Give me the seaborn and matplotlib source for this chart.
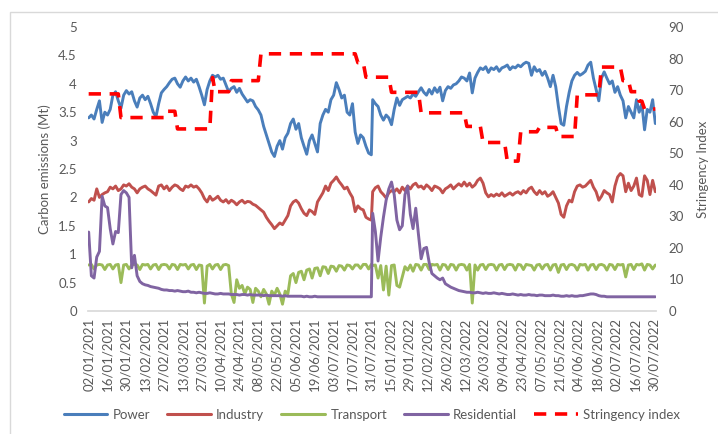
import numpy as np
import pandas as pd
import matplotlib
matplotlib.use("Agg")
import matplotlib.pyplot as plt
from matplotlib.lines import Line2D
from matplotlib.patches import Rectangle
from matplotlib.ticker import FuncFormatter
import seaborn as sns

# ---------------- data ----------------
PERIODS = [("2021-01-02", "2021-07-31"), ("2022-01-02", "2022-07-31")]
SAMPLE_EVERY_DAYS = 2
TICK_EVERY_DAYS = 14

SECTORS = ["Power", "Industry", "Transport", "Residential"]
STRINGENCY_NAME = "Stringency index"

power = [
    3.40, 3.45, 3.38, 3.55, 3.70, 3.32, 3.50,
    3.45, 3.55, 3.80, 3.86, 3.70, 3.57, 3.80,
    3.88, 3.82, 3.86, 3.70, 3.59, 3.75, 3.80,
    3.72, 3.78, 3.65, 3.50, 3.42, 3.65, 3.84,
    3.90, 3.95, 4.02, 4.08, 4.10, 4.00, 3.94,
    4.05, 4.12, 4.05, 4.10, 4.03, 4.08, 3.95,
    3.80, 3.63, 3.90, 4.05, 4.15, 4.12, 4.15,
    4.08, 4.10, 3.98, 3.86, 3.92, 3.95, 3.85,
    3.92, 3.82, 3.75, 3.68, 3.72, 3.70, 3.60,
    3.54, 3.45, 3.25, 3.10, 2.95, 2.80, 2.72,
    2.90, 3.00, 2.85, 3.05, 3.13, 3.30, 3.38,
    3.20, 3.30, 3.05, 2.90, 2.76, 3.00, 3.10,
    2.95, 2.80, 3.30, 3.45, 3.55, 3.50, 3.72,
    3.80, 4.02, 3.90, 3.75, 3.80, 3.50, 3.45,
    3.65, 3.15, 2.95, 3.10, 3.05, 2.90, 2.78,
    2.75,
    3.72, 3.65, 3.60, 3.45, 3.36, 3.45, 3.40,
    3.28, 3.55, 3.75, 3.62, 3.72, 3.75, 3.78,
    3.75, 3.82, 3.78, 3.86, 3.93, 3.85, 3.80,
    3.90, 3.82, 3.93, 3.85, 3.94, 3.70, 3.88,
    3.95, 3.92, 3.98, 4.00, 4.05, 4.12, 4.10,
    4.05, 4.19, 3.84, 4.10, 4.20, 4.28, 4.25,
    4.30, 4.20, 4.28, 4.25, 4.30, 4.22, 4.28,
    4.30, 4.33, 4.25, 4.30, 4.28, 4.33, 4.30,
    4.35, 4.38, 4.36, 4.15, 4.30, 4.22, 4.25,
    4.15, 4.22, 4.10, 3.95, 4.15, 3.95, 3.60,
    3.30, 3.27, 3.60, 3.85, 4.05, 4.15, 4.20,
    4.15, 4.18, 4.22, 4.33, 4.38, 4.10, 3.90,
    3.70, 4.10, 4.21, 4.10, 4.00, 4.05, 3.85,
    3.95, 3.80, 3.70, 3.40, 3.60, 3.50, 3.40,
    3.72, 3.50, 3.65, 3.19, 3.55, 3.50, 3.72,
    3.30,
]

industry = [
    1.92, 1.98, 1.95, 2.15, 2.00, 2.05, 2.08,
    2.10, 2.18, 2.15, 2.20, 2.12, 2.15, 2.22,
    2.20, 2.24, 2.18, 2.15, 2.08, 2.15, 2.18,
    2.20, 2.15, 2.12, 2.08, 2.04, 2.20, 2.22,
    2.15, 2.20, 2.12, 2.18, 2.22, 2.20, 2.15,
    2.12, 2.20, 2.18, 2.22, 2.18, 2.20, 2.15,
    2.08, 1.98, 1.92, 2.02, 1.95, 1.98, 2.02,
    1.95, 1.92, 1.96, 1.90, 1.95, 1.92, 1.87,
    1.92, 1.95, 1.90, 1.93, 1.92, 1.88, 1.86,
    1.82, 1.78, 1.74, 1.65, 1.58, 1.52, 1.45,
    1.50, 1.55, 1.52, 1.60, 1.68, 1.85, 1.92,
    1.95, 1.90, 1.80, 1.72, 1.68, 1.78, 1.75,
    1.70, 1.92, 2.00, 2.08, 2.20, 2.12, 2.25,
    2.30, 2.36, 2.28, 2.22, 2.15, 2.18, 2.08,
    2.00, 1.75, 1.85, 1.80, 1.78, 1.65, 1.62,
    1.60,
    2.10, 2.17, 2.20, 2.10, 2.05, 1.99, 2.08,
    2.12, 2.10, 2.15, 2.08, 2.18, 2.12, 2.20,
    2.15, 2.22, 2.25, 2.18, 2.20, 2.15, 2.22,
    2.18, 2.12, 2.20, 2.18, 2.15, 2.08, 2.15,
    2.18, 2.22, 2.15, 2.20, 2.24, 2.20, 2.27,
    2.20, 2.25, 2.18, 2.22, 2.30, 2.34, 2.25,
    2.08, 2.01, 2.05, 2.02, 2.06, 2.03, 2.08,
    2.02, 2.05, 2.08, 2.04, 2.08, 2.10, 2.06,
    2.12, 2.08, 2.15, 2.18, 2.10, 2.05, 2.12,
    2.06, 2.10, 2.02, 2.05, 2.10, 2.00, 1.90,
    1.70, 1.65, 1.85, 1.95, 1.92, 2.10, 2.20,
    2.22, 2.18, 2.20, 2.25, 2.30, 2.18, 2.10,
    1.95, 2.02, 2.12, 2.08, 2.05, 1.92, 2.20,
    2.36, 2.42, 2.38, 2.10, 2.25, 2.12, 2.20,
    2.34, 2.05, 2.02, 2.38, 2.30, 2.05, 2.30,
    2.10,
]

transport = [
    0.81, 0.82, 0.74, 0.81, 0.82, 0.81, 0.73,
    0.81, 0.82, 0.74, 0.81, 0.82, 0.50, 0.81,
    0.82, 0.74, 0.81, 0.82, 0.81, 0.73, 0.82,
    0.81, 0.82, 0.74, 0.81, 0.82, 0.73, 0.81,
    0.82, 0.81, 0.74, 0.82, 0.81, 0.73, 0.82,
    0.81, 0.82, 0.74, 0.81, 0.82, 0.73, 0.81,
    0.80, 0.14, 0.79, 0.82, 0.74, 0.81, 0.82,
    0.73, 0.81, 0.82, 0.80, 0.30, 0.15, 0.55,
    0.40, 0.45, 0.30, 0.42, 0.38, 0.15, 0.40,
    0.35, 0.25, 0.38, 0.30, 0.12, 0.35, 0.28,
    0.40, 0.30, 0.12, 0.35, 0.30, 0.62, 0.66,
    0.50, 0.68, 0.70, 0.55, 0.72, 0.74, 0.58,
    0.75, 0.76, 0.62, 0.78, 0.77, 0.66, 0.79,
    0.78, 0.70, 0.80, 0.79, 0.72, 0.81, 0.80,
    0.74, 0.81, 0.81, 0.75, 0.82, 0.82, 0.74,
    0.82,
    0.80, 0.81, 0.58, 0.80, 0.37, 0.79, 0.28,
    0.80, 0.81, 0.45, 0.42, 0.60, 0.78, 0.72,
    0.81, 0.70, 0.82, 0.81, 0.72, 0.82, 0.82,
    0.73, 0.82, 0.81, 0.82, 0.72, 0.82, 0.81,
    0.73, 0.82, 0.81, 0.72, 0.81, 0.82, 0.81,
    0.72, 0.82, 0.14, 0.81, 0.72, 0.81, 0.82,
    0.73, 0.81, 0.82, 0.81, 0.72, 0.81, 0.82,
    0.73, 0.81, 0.82, 0.81, 0.72, 0.82, 0.81,
    0.73, 0.82, 0.81, 0.80, 0.72, 0.81, 0.82,
    0.74, 0.81, 0.82, 0.72, 0.81, 0.82, 0.68,
    0.81, 0.82, 0.73, 0.81, 0.82, 0.80, 0.72,
    0.82, 0.81, 0.82, 0.72, 0.81, 0.82, 0.73,
    0.81, 0.82, 0.80, 0.72, 0.82, 0.81, 0.73,
    0.82, 0.81, 0.82, 0.60, 0.81, 0.82, 0.73,
    0.82, 0.81, 0.83, 0.72, 0.82, 0.81, 0.74,
    0.81,
]

residential = [
    1.39, 0.62, 0.58, 0.95, 1.05, 2.02, 1.85,
    1.82, 1.45, 1.18, 1.40, 1.38, 2.05, 2.12,
    2.08, 2.00, 0.76, 0.98, 0.62, 0.52, 0.48,
    0.46, 0.45, 0.43, 0.42, 0.41, 0.40, 0.38,
    0.37, 0.37, 0.36, 0.36, 0.35, 0.36, 0.35,
    0.34, 0.34, 0.35, 0.33, 0.33, 0.32, 0.33,
    0.32, 0.31, 0.31, 0.32, 0.31, 0.30, 0.30,
    0.31, 0.30, 0.30, 0.30, 0.29, 0.29, 0.29,
    0.28, 0.29, 0.29, 0.28, 0.29, 0.28, 0.28,
    0.28, 0.28, 0.27, 0.28, 0.27, 0.27, 0.27,
    0.27, 0.27, 0.26, 0.27, 0.26, 0.26, 0.26,
    0.26, 0.26, 0.26, 0.25, 0.26, 0.25, 0.25,
    0.26, 0.25, 0.25, 0.25, 0.25, 0.25, 0.25,
    0.25, 0.25, 0.25, 0.25, 0.25, 0.25, 0.25,
    0.25, 0.25, 0.25, 0.25, 0.25, 0.25, 0.25,
    0.25,
    1.72, 1.40, 0.88, 1.30, 1.65, 1.95, 2.15,
    2.27, 2.05, 1.60, 1.43, 1.50, 2.05, 2.20,
    1.70, 1.45, 1.81, 1.35, 0.92, 1.10, 1.12,
    0.85, 0.66, 0.62, 0.58, 0.55, 0.58, 0.48,
    0.45, 0.42, 0.40, 0.38, 0.36, 0.35, 0.34,
    0.33, 0.33, 0.32, 0.32, 0.33, 0.32, 0.31,
    0.32, 0.31, 0.31, 0.32, 0.31, 0.30, 0.31,
    0.30, 0.29, 0.29, 0.30, 0.29, 0.28, 0.29,
    0.28, 0.28, 0.29, 0.28, 0.28, 0.27, 0.28,
    0.28, 0.27, 0.27, 0.27, 0.28, 0.27, 0.27,
    0.26, 0.26, 0.27, 0.26, 0.27, 0.26, 0.26,
    0.27, 0.27, 0.28, 0.29, 0.30, 0.30, 0.29,
    0.27, 0.26, 0.26, 0.25, 0.25, 0.25, 0.25,
    0.25, 0.25, 0.25, 0.25, 0.25, 0.25, 0.25,
    0.25, 0.25, 0.25, 0.25, 0.25, 0.25, 0.25,
    0.25,
]

stringency = [
    68.8, 68.8, 68.8, 68.8, 68.8, 68.8, 68.8,
    68.8, 68.8, 68.8, 68.8, 68.8, 61.3, 61.3,
    61.3, 61.3, 61.3, 61.3, 61.3, 61.3, 61.3,
    61.3, 61.3, 61.3, 61.3, 61.3, 61.3, 61.3,
    61.3, 63.3, 63.3, 63.3, 63.3, 57.7, 57.7,
    57.7, 57.7, 57.7, 57.7, 57.7, 57.7, 57.7,
    57.7, 57.7, 57.7, 57.7, 74.0, 69.5, 69.5,
    69.5, 69.5, 69.5, 69.5, 73.0, 73.0, 73.0,
    73.0, 73.0, 73.0, 73.0, 73.0, 73.0, 73.0,
    73.0, 81.5, 81.5, 81.5, 81.5, 81.5, 81.5,
    81.5, 81.5, 81.5, 81.5, 81.5, 81.5, 81.5,
    81.5, 81.5, 81.5, 81.5, 81.5, 81.5, 81.5,
    81.5, 81.5, 81.5, 81.5, 81.5, 81.5, 81.5,
    81.5, 81.5, 81.5, 81.5, 81.5, 81.5, 81.5,
    81.5, 81.5, 78.7, 78.7, 78.7, 74.1, 74.1,
    74.1,
    74.1, 74.1, 74.1, 74.1, 74.1, 74.1, 74.1,
    69.3, 69.3, 69.3, 69.3, 69.3, 69.3, 69.3,
    69.3, 69.3, 69.3, 69.3, 62.8, 62.8, 62.8,
    62.8, 62.8, 62.8, 62.8, 62.8, 62.8, 62.8,
    62.8, 62.8, 62.8, 62.8, 62.8, 62.8, 62.8,
    58.5, 58.5, 58.5, 58.5, 58.5, 58.5, 53.4,
    53.4, 53.4, 53.4, 53.4, 53.4, 53.4, 53.4,
    53.4, 47.5, 47.5, 47.5, 47.5, 47.5, 56.8,
    56.8, 56.8, 56.8, 56.8, 56.8, 56.8, 58.2,
    58.2, 58.2, 58.2, 58.2, 58.2, 58.2, 55.3,
    55.3, 55.3, 55.3, 55.3, 55.3, 55.3, 68.5,
    68.5, 68.5, 68.5, 68.5, 68.5, 68.5, 68.5,
    68.5, 77.3, 77.3, 77.3, 77.3, 77.3, 77.3,
    77.3, 77.3, 73.0, 73.0, 73.0, 69.5, 69.5,
    69.5, 66.5, 66.5, 64.0, 64.0, 64.0, 64.0,
    64.0,
]

COLORS = {"Power": "#4a7ebb", "Industry": "#c0504d",
          "Transport": "#9bbb59", "Residential": "#8064a2"}
STRINGENCY_COLOR = "#ff0000"

# -------------- categories / positions --------------
cat_dates = []
positions = []
offset = 0
for start, end in PERIODS:
    d = pd.date_range(start, end, freq="D")
    cat_dates.extend(list(d))
    positions.extend(list(offset + np.arange(0, len(d), SAMPLE_EVERY_DAYS)))
    offset += len(d)
n_cats = len(cat_dates)
positions = np.array(positions)

df = pd.DataFrame({"pos": positions, "Power": power, "Industry": industry,
                   "Transport": transport, "Residential": residential,
                   STRINGENCY_NAME: stringency})
long = df.melt(id_vars="pos", value_vars=SECTORS, var_name="Sector", value_name="Mt")

# -------------- plotting --------------
sns.set_theme(style="white")
plt.rcParams["font.family"] = ["Lato", "DejaVu Sans"]
TXT = "#595959"
FS = 9.5

W, H = 718, 434
fig = plt.figure(figsize=(W / 100, H / 100), dpi=100)
L, R, T, B = 88, 656, 27, 311
ax = fig.add_axes([L / W, 1 - B / H, (R - L) / W, (B - T) / H])

sns.lineplot(data=long, x="pos", y="Mt", hue="Sector", hue_order=SECTORS,
             palette=COLORS, linewidth=2.1, estimator=None, sort=False,
             legend=False, ax=ax)

ax2 = ax.twinx()
sns.lineplot(data=df, x="pos", y=STRINGENCY_NAME, color=STRINGENCY_COLOR,
             linewidth=2.6, estimator=None, sort=False, legend=False, ax=ax2)
for ln in ax2.lines:
    ln.set_dashes((3.4, 2.4))
    ln.set_dash_capstyle("butt")

ax.set_xlim(-0.5, n_cats - 0.5)
ax.set_ylim(0, 5)
ax2.set_ylim(0, 90)
ax.set_yticks(np.arange(0, 5.01, 0.5))
ax2.set_yticks(np.arange(0, 91, 10))
fmt = FuncFormatter(lambda v, _: f"{v:g}")
ax.yaxis.set_major_formatter(fmt)
ax2.yaxis.set_major_formatter(fmt)

tick_pos = list(range(0, n_cats, TICK_EVERY_DAYS))
ax.set_xticks(tick_pos)
ax.set_xticklabels([cat_dates[i].strftime("%d/%m/%Y") for i in tick_pos],
                   rotation=90)

for a in (ax, ax2):
    a.grid(False)
    for s in a.spines.values():
        s.set_visible(False)
    a.tick_params(length=0, labelsize=FS, colors=TXT)
ax.spines["bottom"].set_visible(True)
ax.spines["bottom"].set_color("#d9d9d9")
ax.tick_params(axis="y", pad=8)
ax.tick_params(axis="x", pad=5)
ax2.tick_params(axis="y", pad=9)

ax.set_xlabel("")
ax.set_ylabel("Carbon emissions (Mt)", fontsize=FS, color=TXT)
ax2.set_ylabel("Stringency Index", fontsize=FS, color=TXT)
ax.yaxis.set_label_coords((51 - L) / (R - L), 0.5)
ax2.yaxis.set_label_coords((697 - L) / (R - L), 0.5)

handles = [Line2D([], [], color=COLORS[s], lw=2.2) for s in SECTORS]
sh = Line2D([], [], color=STRINGENCY_COLOR, lw=2.6)
sh.set_dashes((3.4, 2.4))
handles.append(sh)
fig.legend(handles, SECTORS + [STRINGENCY_NAME], loc="center",
           bbox_to_anchor=(372 / W, 1 - 415 / H), ncol=5, frameon=False,
           fontsize=FS, labelcolor=TXT, handlelength=3.3, handletextpad=0.4,
           columnspacing=1.3)

fig.add_artist(Rectangle((10 / W, -0.05), 1.2, 1 - 11.5 / H + 0.05,
                         transform=fig.transFigure, fill=False,
                         edgecolor="#d9d9d9", lw=1))

fig.savefig("out.png", dpi=100)
